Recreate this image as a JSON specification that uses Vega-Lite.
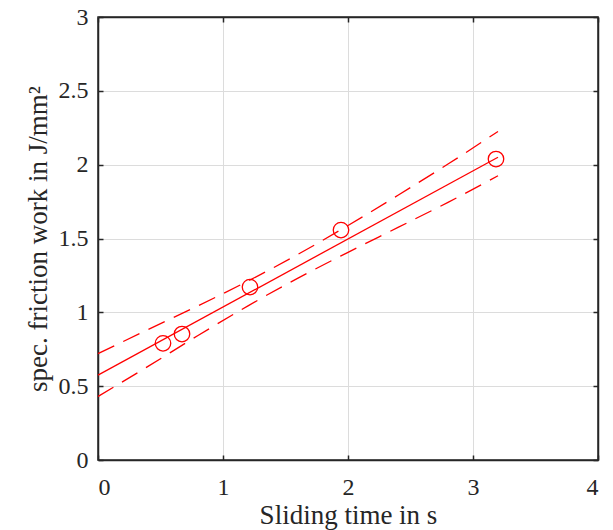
{
  "$schema": "https://vega.github.io/schema/vega-lite/v6.json",
  "autosize": "none",
  "width": 500,
  "height": 443,
  "padding": {"left": 98, "top": 17, "right": 15, "bottom": 70},
  "background": "white",
  "title": {"text": "(a)", "font": "Liberation Serif", "fontSize": 24, "fontWeight": "normal", "color": "#262626", "anchor": "middle", "dx": -91, "baseline": "bottom", "offset": -8},
  "config": {
    "view": {"stroke": "#262626", "strokeWidth": 1.5},
    "font": "Liberation Serif",
    "axis": {
      "labelFont": "Liberation Serif",
      "titleFont": "Liberation Serif",
      "labelFontSize": 24,
      "titleFontSize": 27,
      "titleFontWeight": "normal",
      "labelColor": "#262626",
      "titleColor": "#262626",
      "domainColor": "#262626",
      "domainWidth": 1.5,
      "tickColor": "#262626",
      "tickWidth": 1.5,
      "tickSize": -5,
      "gridColor": "#dcdcdc",
      "gridWidth": 1
    }
  },
  "datasets": {
    "pts": [
      {"t": 0.52, "w": 0.79},
      {"t": 0.672, "w": 0.853},
      {"t": 1.216, "w": 1.171},
      {"t": 1.944, "w": 1.557},
      {"t": 3.184, "w": 2.038}
    ],
    "fit": [
      {"t": 0, "w": 0.575},
      {"t": 3.2, "w": 2.05}
    ],
    "upper": [
      {"t": 0, "w": 0.72},
      {"t": 0.4, "w": 0.883},
      {"t": 0.8, "w": 1.044},
      {"t": 1.2, "w": 1.212},
      {"t": 1.6, "w": 1.393},
      {"t": 2.0, "w": 1.588},
      {"t": 2.4, "w": 1.793},
      {"t": 2.8, "w": 2.004},
      {"t": 3.2, "w": 2.225}
    ],
    "lower": [
      {"t": 0, "w": 0.43},
      {"t": 0.4, "w": 0.634},
      {"t": 0.8, "w": 0.843},
      {"t": 1.2, "w": 1.044},
      {"t": 1.6, "w": 1.232},
      {"t": 2.0, "w": 1.406},
      {"t": 2.4, "w": 1.575},
      {"t": 2.8, "w": 1.745},
      {"t": 3.2, "w": 1.925}
    ]
  },
  "layer": [
    {
      "data": {"name": "pts"},
      "mark": {"type": "point", "shape": "circle", "filled": false, "color": "#ff0000", "size": 240, "strokeWidth": 1.3, "opacity": 1},
      "encoding": {
        "x": {"field": "t", "type": "quantitative", "scale": {"domain": [0, 4], "nice": false},
          "axis": {"title": "Sliding time in s", "values": [0, 1, 2, 3, 4], "format": "~g", "labelPadding": 20, "titlePadding": 3}},
        "y": {"field": "w", "type": "quantitative", "scale": {"domain": [0, 3], "nice": false},
          "axis": {"title": "spec. friction work in J/mm²", "values": [0, 0.5, 1, 1.5, 2, 2.5, 3], "format": "~g", "labelPadding": 15, "titlePadding": 6}}
      }
    },
    {
      "data": {"name": "fit"},
      "mark": {"type": "line", "color": "#ff0000", "strokeWidth": 1.3},
      "encoding": {
        "x": {"field": "t", "type": "quantitative", "axis": null},
        "y": {"field": "w", "type": "quantitative", "axis": null}
      }
    },
    {
      "data": {"name": "upper"},
      "mark": {"type": "line", "color": "#ff0000", "strokeWidth": 1.3, "strokeDash": [18, 10], "interpolate": "monotone"},
      "encoding": {
        "x": {"field": "t", "type": "quantitative", "axis": null},
        "y": {"field": "w", "type": "quantitative", "axis": null}
      }
    },
    {
      "data": {"name": "lower"},
      "mark": {"type": "line", "color": "#ff0000", "strokeWidth": 1.3, "strokeDash": [18, 10], "interpolate": "monotone"},
      "encoding": {
        "x": {"field": "t", "type": "quantitative", "axis": {"orient": "top", "values": [0, 1, 2, 3, 4], "labels": false, "title": null, "grid": false}},
        "y": {"field": "w", "type": "quantitative", "axis": {"orient": "right", "values": [0, 0.5, 1, 1.5, 2, 2.5, 3], "labels": false, "title": null, "grid": false}}
      }
    }
  ],
  "resolve": {"axis": {"x": "independent", "y": "independent"}}
}
